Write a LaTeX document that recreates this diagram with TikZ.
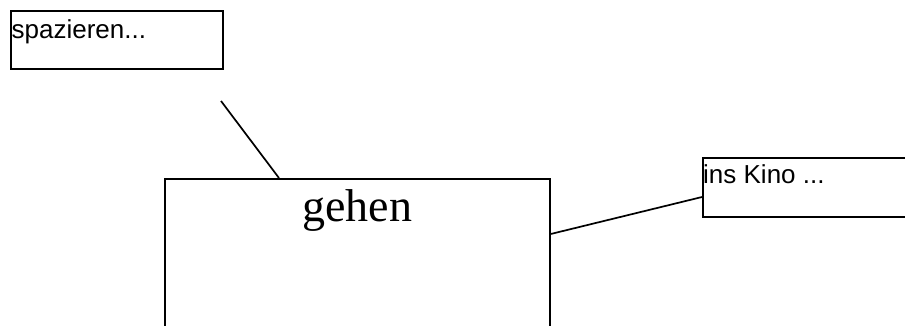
\documentclass[tikz,border=0pt]{standalone}
\usepackage{fontspec}
\setmainfont{Liberation Serif}
\newfontfamily\arialf{Liberation Sans}
\begin{document}
\begin{tikzpicture}[x=1pt,y=-1pt,
  box/.style={draw, line width=1.7pt, rectangle, inner sep=0pt, anchor=north west},
  conn/.style={line width=1.7pt},
  lbl/.style={anchor=base west, inner sep=0pt, font=\arialf\fontsize{26}{30}\selectfont},
  big/.style={anchor=base, inner sep=0pt, font=\fontsize{46}{52}\selectfont}]
\useasboundingbox (0,0) rectangle (905,325);
\node[box, minimum width=212pt, minimum height=58pt] (spaz) at (10,10) {};
\node[lbl] (spazt) at ([xshift=1.5pt,yshift=-28pt]spaz.north west) {spazieren...};
\node[box, minimum width=385pt, minimum height=200pt] (geh) at (164,178) {};
\node[big] (geht) at ([yshift=-43pt]geh.north) {gehen};
\node[box, minimum width=260pt, minimum height=59pt] (kino) at (702,157) {};
\node[lbl] (kinot) at ([xshift=1pt,yshift=-26pt]kino.north west) {ins Kino ...};
\coordinate (c1) at (221,101);
\draw[conn] (c1) -- ([xshift=115pt]geh.north west);
\draw[conn] ([yshift=-56pt]geh.north east) -- ([yshift=-40pt]kino.north west);
\end{tikzpicture}
\end{document}
